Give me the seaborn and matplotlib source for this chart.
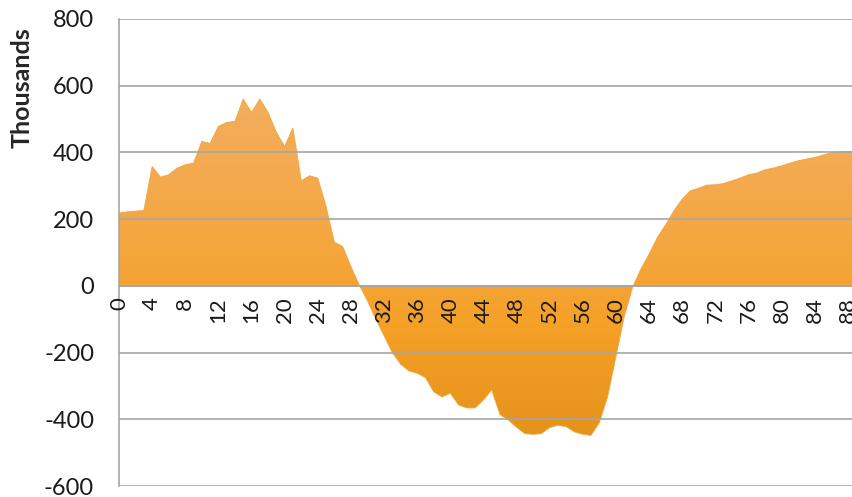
import matplotlib.pyplot as plt
import matplotlib.colors as mcolors
import numpy as np
import pandas as pd
import seaborn as sns

# values in thousands, one per period
periods = list(range(0, 90))
values = [218, 222, 224, 226, 358, 326, 333, 353, 363, 368,
          433, 427, 478, 490, 493, 560, 520, 560, 520, 460,
          418, 473, 315, 330, 323, 238, 131, 118, 58, 3,
          -45, -100, -150, -200, -235, -255, -262, -275, -318, -333,
          -322, -357, -366, -366, -342, -312, -386, -402, -424, -443,
          -445, -443, -425, -418, -422, -438, -445, -448, -410, -332,
          -212, -92, -5, 50, 95, 145, 183, 225, 260, 285,
          293, 302, 303, 307, 315, 323, 333, 338, 348, 353,
          360, 368, 375, 380, 385, 392, 399, 402, 403, 403]
y_ticks = [-600, -400, -200, 0, 200, 400, 600, 800]
x_labels = list(range(0, 89, 4))

df = pd.DataFrame({'period': periods, 'value': values})

sns.set_style('white')
plt.rcParams['font.family'] = ['Lato', 'DejaVu Sans']

fig = plt.figure(figsize=(8.52, 4.97), dpi=100)
ax = fig.add_axes([0.1397, 0.0221, 0.8603, 0.9397])

# area with vertical gradient
poly = ax.fill_between(df['period'], df['value'], 0, color='none', lw=0)
grad = mcolors.LinearSegmentedColormap.from_list(
    'orng', ['#E5921A', '#F5A128', '#F4A847', '#F2AE5E'])
img = ax.imshow(np.linspace(0, 1, 256).reshape(-1, 1), cmap=grad,
                aspect='auto', origin='lower',
                extent=[0, 89, -460, 570], zorder=1)
img.set_clip_path(poly.get_paths()[0], transform=ax.transData)
sns.lineplot(data=df, x='period', y='value', ax=ax, color='#F4A53A',
             lw=0.6, zorder=2)

ax.set_xlim(0, 88.5)
ax.set_ylim(-600, 800)
ax.set_yticks(y_ticks)
ax.set_yticklabels([str(v) for v in y_ticks], fontsize=17, color='#1a1a1a')
ax.yaxis.grid(True, color='#a6a6a6', lw=1.2)
ax.set_axisbelow(False)
for gl in ax.get_ygridlines():
    gl.set_zorder(0.5)

ax.spines['top'].set_visible(False)
ax.spines['right'].set_visible(False)
ax.spines['left'].set_color('#a6a6a6')
ax.spines['left'].set_linewidth(1.2)
ax.spines['bottom'].set_position(('data', 0))
ax.spines['bottom'].set_color('#a6a6a6')
ax.spines['bottom'].set_linewidth(1.2)
ax.spines['bottom'].set_zorder(3)

ax.set_xticks(x_labels)
ax.set_xticklabels([str(v) for v in x_labels], rotation=90, fontsize=16,
                   color='#1a1a1a')
ax.set_xticks(periods[:89], minor=True)
ax.tick_params(axis='x', which='both', direction='out', length=6,
               color='#a6a6a6', width=1.2, pad=2)
ax.tick_params(axis='y', direction='out', length=7, color='#a6a6a6',
               width=1.2, pad=11)
ax.set_xlabel('')
ax.set_ylabel('')

fig.text(22 / 852, 1 - 27 / 497, 'Thousands', rotation=90, fontsize=18,
         fontweight='bold', ha='center', va='top')

fig.savefig('out.png', dpi=100)
